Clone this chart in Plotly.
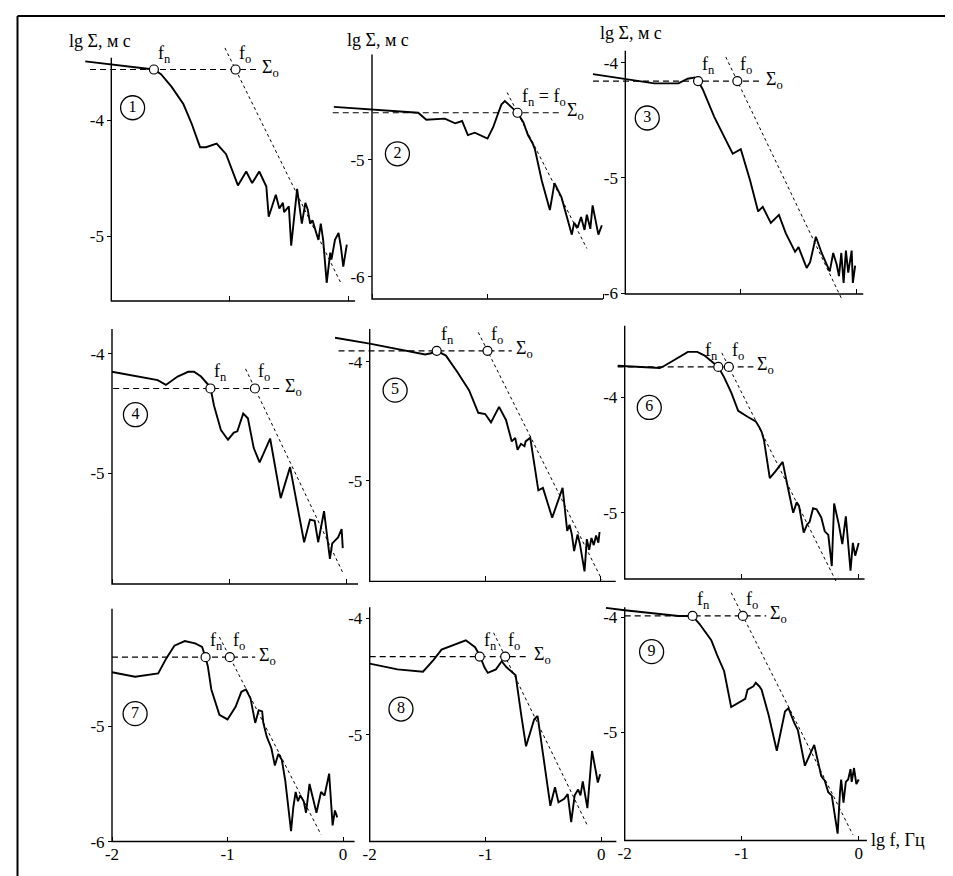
import plotly.graph_objects as go

# ---------------- data (lg f, Hz ; lg Sigma, m s) ----------------
lgf_1 = [-2.22,-1.64,-1.58,-1.49,-1.39,-1.32,-1.25,-1.20,-1.11,-1.03,-0.93,-0.86,-0.81,-0.75,-0.69,-0.67,-0.61,-0.58,-0.55,-0.54,-0.50,-0.48,-0.43,-0.41,-0.39,-0.36,-0.34,-0.32,-0.30,-0.28,-0.25,-0.23,-0.21,-0.18,-0.15,-0.14,-0.11,-0.08,-0.06,-0.04,-0.01]
lgS_1 = [-3.49,-3.56,-3.60,-3.71,-3.86,-4.03,-4.23,-4.23,-4.20,-4.29,-4.56,-4.44,-4.54,-4.44,-4.57,-4.83,-4.64,-4.76,-4.71,-4.79,-4.74,-5.08,-4.59,-4.74,-4.89,-4.71,-4.77,-4.89,-4.86,-4.93,-5.03,-4.89,-5.03,-5.40,-5.14,-5.20,-5.03,-4.97,-5.09,-5.26,-5.07]

lgf_2 = [-2.33,-1.60,-1.53,-1.37,-1.28,-1.22,-1.17,-1.11,-1.00,-0.95,-0.91,-0.88,-0.85,-0.74,-0.69,-0.65,-0.61,-0.59,-0.53,-0.46,-0.42,-0.36,-0.27,-0.25,-0.22,-0.19,-0.16,-0.14,-0.11,-0.09,-0.04,-0.01]
lgS_2 = [-4.55,-4.60,-4.66,-4.65,-4.69,-4.67,-4.79,-4.77,-4.82,-4.72,-4.61,-4.53,-4.50,-4.60,-4.68,-4.79,-4.86,-4.91,-5.18,-5.43,-5.20,-5.32,-5.64,-5.54,-5.58,-5.49,-5.60,-5.47,-5.59,-5.39,-5.64,-5.56]

lgf_3 = [-2.28,-2.01,-1.75,-1.54,-1.46,-1.40,-1.37,-1.33,-1.23,-1.14,-1.07,-1.00,-0.92,-0.85,-0.81,-0.74,-0.67,-0.61,-0.53,-0.50,-0.43,-0.40,-0.35,-0.30,-0.26,-0.23,-0.20,-0.17,-0.15,-0.13,-0.11,-0.09,-0.07,-0.04,-0.03,-0.01]
lgS_3 = [-4.10,-4.14,-4.18,-4.18,-4.14,-4.13,-4.16,-4.23,-4.47,-4.65,-4.79,-4.75,-5.02,-5.29,-5.25,-5.39,-5.32,-5.48,-5.64,-5.60,-5.78,-5.73,-5.51,-5.65,-5.75,-5.81,-5.65,-5.75,-5.85,-5.65,-5.91,-5.63,-5.82,-5.63,-5.91,-5.76]

lgf_4 = [-2.00,-1.61,-1.54,-1.44,-1.35,-1.30,-1.24,-1.20,-1.16,-1.13,-1.07,-1.01,-0.96,-0.93,-0.90,-0.88,-0.84,-0.79,-0.74,-0.65,-0.56,-0.48,-0.36,-0.31,-0.27,-0.24,-0.19,-0.14,-0.12,-0.07,-0.04,-0.03]
lgS_4 = [-4.15,-4.22,-4.26,-4.19,-4.15,-4.15,-4.19,-4.24,-4.28,-4.43,-4.64,-4.72,-4.66,-4.65,-4.56,-4.50,-4.54,-4.79,-4.91,-4.71,-5.21,-4.95,-5.58,-5.39,-5.40,-5.58,-5.32,-5.72,-5.59,-5.54,-5.47,-5.63]

lgf_5 = [-2.30,-2.00,-1.52,-1.47,-1.42,-1.34,-1.24,-1.14,-1.06,-1.00,-0.95,-0.88,-0.82,-0.77,-0.74,-0.72,-0.69,-0.66,-0.65,-0.61,-0.54,-0.50,-0.42,-0.33,-0.29,-0.27,-0.25,-0.23,-0.20,-0.18,-0.14,-0.12,-0.10,-0.08,-0.06,-0.04,-0.02,-0.01]
lgS_5 = [-3.80,-3.85,-3.94,-3.93,-3.91,-3.95,-4.09,-4.24,-4.43,-4.44,-4.51,-4.38,-4.49,-4.67,-4.64,-4.74,-4.69,-4.71,-4.67,-4.64,-5.08,-5.06,-5.31,-5.06,-5.42,-5.37,-5.45,-5.59,-5.45,-5.53,-5.76,-5.49,-5.58,-5.48,-5.54,-5.46,-5.52,-5.43]

lgf_6 = [-2.06,-1.70,-1.66,-1.54,-1.46,-1.38,-1.32,-1.20,-1.15,-1.09,-1.03,-0.95,-0.88,-0.85,-0.83,-0.81,-0.76,-0.71,-0.65,-0.61,-0.56,-0.53,-0.51,-0.47,-0.44,-0.42,-0.39,-0.36,-0.32,-0.29,-0.26,-0.23,-0.21,-0.17,-0.14,-0.11,-0.07,-0.05,-0.03,0.00]
lgS_6 = [-3.73,-3.75,-3.73,-3.66,-3.61,-3.61,-3.64,-3.74,-3.83,-3.96,-4.12,-4.17,-4.21,-4.26,-4.30,-4.37,-4.70,-4.64,-4.56,-4.76,-5.00,-4.91,-4.94,-5.17,-5.10,-5.08,-4.96,-4.97,-5.04,-5.16,-5.19,-5.46,-4.92,-5.10,-5.27,-5.03,-5.50,-5.26,-5.37,-5.26]

lgf_7 = [-2.00,-1.80,-1.60,-1.53,-1.46,-1.37,-1.28,-1.22,-1.19,-1.17,-1.14,-1.07,-1.00,-0.93,-0.88,-0.84,-0.80,-0.76,-0.73,-0.70,-0.69,-0.66,-0.62,-0.59,-0.56,-0.53,-0.50,-0.45,-0.43,-0.41,-0.39,-0.37,-0.34,-0.32,-0.29,-0.26,-0.23,-0.19,-0.16,-0.12,-0.09,-0.07,-0.05]
lgS_7 = [-4.53,-4.57,-4.54,-4.41,-4.30,-4.26,-4.28,-4.31,-4.40,-4.48,-4.68,-4.90,-4.94,-4.83,-4.70,-4.68,-4.76,-4.97,-4.86,-4.87,-4.97,-5.09,-5.19,-5.34,-5.24,-5.29,-5.47,-5.91,-5.70,-5.57,-5.65,-5.60,-5.65,-5.75,-5.50,-5.63,-5.75,-5.57,-5.60,-5.41,-5.86,-5.73,-5.79]

lgf_8 = [-2.00,-1.76,-1.54,-1.45,-1.38,-1.27,-1.17,-1.09,-1.05,-1.01,-0.98,-0.91,-0.86,-0.82,-0.74,-0.69,-0.65,-0.58,-0.55,-0.44,-0.40,-0.37,-0.32,-0.29,-0.26,-0.23,-0.20,-0.18,-0.16,-0.12,-0.08,-0.05,-0.03,-0.01]
lgS_8 = [-4.39,-4.44,-4.46,-4.36,-4.27,-4.23,-4.19,-4.25,-4.32,-4.42,-4.47,-4.44,-4.37,-4.42,-4.49,-4.84,-5.10,-4.87,-4.84,-5.61,-5.45,-5.58,-5.55,-5.51,-5.75,-5.52,-5.47,-5.52,-5.40,-5.63,-5.14,-5.30,-5.41,-5.34]

lgf_9 = [-2.16,-2.00,-1.54,-1.42,-1.36,-1.26,-1.21,-1.15,-1.09,-0.97,-0.95,-0.90,-0.88,-0.85,-0.83,-0.77,-0.70,-0.63,-0.60,-0.55,-0.52,-0.46,-0.38,-0.32,-0.29,-0.26,-0.23,-0.18,-0.16,-0.15,-0.13,-0.11,-0.09,-0.07,-0.06,-0.04,-0.02,0.00]
lgS_9 = [-3.92,-3.94,-3.99,-3.99,-4.06,-4.20,-4.33,-4.47,-4.78,-4.71,-4.63,-4.60,-4.57,-4.60,-4.63,-4.85,-5.16,-4.82,-4.79,-4.92,-4.98,-5.29,-5.11,-5.38,-5.42,-5.52,-5.55,-5.88,-5.52,-5.41,-5.61,-5.43,-5.41,-5.32,-5.43,-5.31,-5.45,-5.41]

# corner frequencies and plateau levels
fn_vals = [-1.64, -0.74, -1.37, -1.16, -1.42, -1.20, -1.19, -1.05, -1.42]
fo_vals = [-0.95, -0.74, -1.03, -0.78, -0.98, -1.11, -0.98, -0.83, -0.99]
sigma0 = [-3.56, -4.60, -4.16, -4.29, -3.91, -3.74, -4.40, -4.33, -3.99]
# high-frequency asymptote: slope and lg f extent
hf_slope = [-2.07, -1.93, -2.09, -2.06, -1.94, -2.02, -1.95, -2.04, -2.02]
hf_from = [-1.04, -0.83, -1.13, -0.86, -1.06, -1.17, -1.07, -0.93, -1.09]
hf_to = [-0.06, -0.14, -0.13, -0.03, 0.01, -0.18, -0.19, -0.12, -0.05]
# plateau line extent
s0_from = [-2.18, -2.34, -2.28, -1.99, -2.27, -2.06, -2.00, -2.00, -2.00]
s0_to = [-0.76, -0.35, -0.82, -0.56, -0.77, -0.90, -0.76, -0.62, -0.79]
panel_labels = ["1", "2", "3", "4", "5", "6", "7", "8", "9"]
num_pos_f = [-1.82, -1.78, -1.81, -1.80, -1.78, -1.79, -1.80, -1.73, -1.77]
num_pos_s = [-3.89, -4.95, -4.48, -4.51, -4.24, -4.09, -4.89, -4.78, -4.30]
y_ticks = [[-4, -5], [-5, -6], [-4, -5, -6], [-4, -5], [-4, -5], [-4, -5], [-5, -6], [-4, -5], [-4, -5]]
x_ticks = [-2, -1, 0]

LGF = [lgf_1, lgf_2, lgf_3, lgf_4, lgf_5, lgf_6, lgf_7, lgf_8, lgf_9]
LGS = [lgS_1, lgS_2, lgS_3, lgS_4, lgS_5, lgS_6, lgS_7, lgS_8, lgS_9]

# ---------------- layout geometry (pixels) ----------------
W, H = 953, 876
GEOM = [
    dict(xm2=103.3, x0=340.0, ya=(-4, 113.3), yb=(-5, 230.0), xline=295.0, ytop=50.0, xend=0.06, top=30),
    dict(xm2=364.0, x0=595.0, ya=(-5, 152.7), yb=(-6, 270.7), xline=293.0, ytop=46.7, xend=0.0, top=36),
    dict(xm2=617.3, x0=848.3, ya=(-4, 55.0), yb=(-6, 287.3), xline=288.0, ytop=43.0, xend=0.06, top=33),
    dict(xm2=104.0, x0=338.3, ya=(-4, 348.3), yb=(-5, 468.3), xline=580.0, ytop=323.3, xend=0.1, top=316),
    dict(xm2=361.7, x0=592.7, ya=(-4, 356.0), yb=(-5, 476.0), xline=577.3, ytop=323.3, xend=0.13, top=316),
    dict(xm2=616.7, x0=850.7, ya=(-4, 391.7), yb=(-5, 508.3), xline=575.0, ytop=320.0, xend=0.05, top=316),
    dict(xm2=104.0, x0=335.0, ya=(-5, 723.3), yb=(-6, 839.3), xline=839.3, ytop=605.0, xend=0.1, top=598),
    dict(xm2=361.7, x0=593.3, ya=(-4, 614.3), yb=(-5, 731.7), xline=839.3, ytop=603.3, xend=0.13, top=596),
    dict(xm2=616.7, x0=850.7, ya=(-4, 613.3), yb=(-5, 729.3), xline=838.3, ytop=603.3, xend=0.07, top=588),
]

FONT = "Liberation Serif"
BLACK = "#000000"
TICK_SIZE = 17
LABEL_SIZE = 18

fig = go.Figure()
layout = dict(
    width=W, height=H, margin=dict(l=0, r=0, t=0, b=0),
    paper_bgcolor="white", plot_bgcolor="rgba(0,0,0,0)",
    showlegend=False, font=dict(family=FONT, color=BLACK, size=TICK_SIZE),
)
annotations = []
shapes = []

for i in range(9):
    g = GEOM[i]
    n = "" if i == 0 else str(i + 1)
    xr, yr = "x" + n, "y" + n
    kx = 2.0 / (g["x0"] - g["xm2"])
    (va, pa), (vb, pb) = g["ya"], g["yb"]
    ky = (vb - va) / (pb - pa)

    def xv(p, g=g, kx=kx):
        return -2 + (p - g["xm2"]) * kx

    def yv(p, va=va, pa=pa, ky=ky):
        return va + (p - pa) * ky

    L, R = g["xm2"] - 50, g["x0"] + 34
    T, B = g["top"], g["xline"] + 4
    layout["xaxis" + n] = dict(
        domain=[L / W, R / W], range=[xv(L), xv(R)], anchor="free",
        position=1 - g["xline"] / H, showgrid=False, zeroline=False, showline=False,
        ticks="inside", ticklen=5, tickwidth=1.2, tickcolor=BLACK,
        tickvals=x_ticks, ticktext=[str(t) for t in x_ticks],
        showticklabels=(i >= 6), tickfont=dict(family=FONT, size=TICK_SIZE, color=BLACK),
        fixedrange=True,
    )
    layout["yaxis" + n] = dict(
        domain=[1 - B / H, 1 - T / H], range=[yv(B), yv(T)], anchor="free",
        position=g["xm2"] / W, side="left", showgrid=False, zeroline=False, showline=False,
        ticks="outside", ticklen=4, tickwidth=1.2, tickcolor=BLACK,
        tickvals=y_ticks[i], ticktext=[str(t) for t in y_ticks[i]],
        tickfont=dict(family=FONT, size=TICK_SIZE, color=BLACK), fixedrange=True,
    )
    ybot = yv(g["xline"])
    ytop = yv(g["ytop"])
    # axis lines
    fig.add_trace(go.Scatter(x=[-2, -2, g["xend"]], y=[ytop, ybot, ybot], mode="lines",
                             line=dict(color=BLACK, width=1.4), xaxis=xr, yaxis=yr, hoverinfo="skip"))
    # plateau line
    fig.add_trace(go.Scatter(x=[s0_from[i], s0_to[i]], y=[sigma0[i], sigma0[i]], mode="lines",
                             line=dict(color=BLACK, width=1.2, dash="6px,4px"), xaxis=xr, yaxis=yr, hoverinfo="skip"))
    # high-frequency asymptote
    hx = [hf_from[i], hf_to[i]]
    hy = [sigma0[i] + hf_slope[i] * (x - fo_vals[i]) for x in hx]
    fig.add_trace(go.Scatter(x=hx, y=hy, mode="lines",
                             line=dict(color=BLACK, width=1.0, dash="3px,3px"), xaxis=xr, yaxis=yr, hoverinfo="skip"))
    # spectrum
    fig.add_trace(go.Scatter(x=LGF[i], y=LGS[i], mode="lines",
                             line=dict(color=BLACK, width=1.9), xaxis=xr, yaxis=yr, hoverinfo="skip"))
    # corner points
    px = [fn_vals[i], fo_vals[i]] if fn_vals[i] != fo_vals[i] else [fn_vals[i]]
    fig.add_trace(go.Scatter(x=px, y=[sigma0[i]] * len(px), mode="markers", cliponaxis=False,
                             marker=dict(size=9, color="white", line=dict(color=BLACK, width=1.2)),
                             xaxis=xr, yaxis=yr, hoverinfo="skip"))
    # circled panel number
    fig.add_trace(go.Scatter(x=[num_pos_f[i]], y=[num_pos_s[i]], mode="markers+text", cliponaxis=False,
                             text=[panel_labels[i]], textposition="middle center",
                             textfont=dict(family=FONT, size=16, color=BLACK),
                             marker=dict(symbol="circle-open", size=24, color=BLACK, line=dict(width=1.3)),
                             xaxis=xr, yaxis=yr, hoverinfo="skip"))
    # labels
    if i == 1:
        annotations.append(dict(x=fn_vals[i], y=sigma0[i], xref=xr, yref=yr, text="f<sub>n</sub> = f<sub>o</sub>",
                                showarrow=False, xanchor="left", yanchor="bottom", xshift=2, yshift=2,
                                font=dict(family=FONT, size=LABEL_SIZE, color=BLACK)))
    else:
        fn_anchor = "right" if i == 5 else "left"
        fn_shift = 2 if i == 5 else 2
        annotations.append(dict(x=fn_vals[i], y=sigma0[i], xref=xr, yref=yr, text="f<sub>n</sub>",
                                showarrow=False, xanchor=fn_anchor, yanchor="bottom", xshift=fn_shift, yshift=2,
                                font=dict(family=FONT, size=LABEL_SIZE, color=BLACK)))
        annotations.append(dict(x=fo_vals[i], y=sigma0[i], xref=xr, yref=yr, text="f<sub>o</sub>",
                                showarrow=False, xanchor="left", yanchor="bottom", xshift=1, yshift=2,
                                font=dict(family=FONT, size=LABEL_SIZE, color=BLACK)))
    annotations.append(dict(x=s0_to[i], y=sigma0[i], xref=xr, yref=yr, text="Σ<sub>o</sub>",
                            showarrow=False, xanchor="left", yanchor="middle", xshift=2, yshift=1,
                            font=dict(family=FONT, size=LABEL_SIZE, color=BLACK)))

# axis titles
for (cx, cy) in [(92, 33), (370, 32), (623, 25)]:
    annotations.append(dict(x=cx / W, y=1 - cy / H, xref="paper", yref="paper", text="lg Σ, м с",
                            showarrow=False, xanchor="center", yanchor="middle",
                            font=dict(family=FONT, size=LABEL_SIZE, color=BLACK)))
annotations.append(dict(x=861 / W, y=1 - 838 / H, xref="paper", yref="paper", text="lg f, Гц",
                        showarrow=False, xanchor="left", yanchor="middle",
                        font=dict(family=FONT, size=LABEL_SIZE, color=BLACK)))

# frame (top and left border)
shapes.append(dict(type="line", xref="paper", yref="paper", x0=9.5 / W, x1=1, y0=1 - 8 / H, y1=1 - 8 / H,
                   line=dict(color=BLACK, width=2)))
shapes.append(dict(type="line", xref="paper", yref="paper", x0=9.5 / W, x1=9.5 / W, y0=1 - 8 / H, y1=0,
                   line=dict(color=BLACK, width=2)))

layout["annotations"] = annotations
layout["shapes"] = shapes
fig.update_layout(**layout)
fig.write_html("out.html")
